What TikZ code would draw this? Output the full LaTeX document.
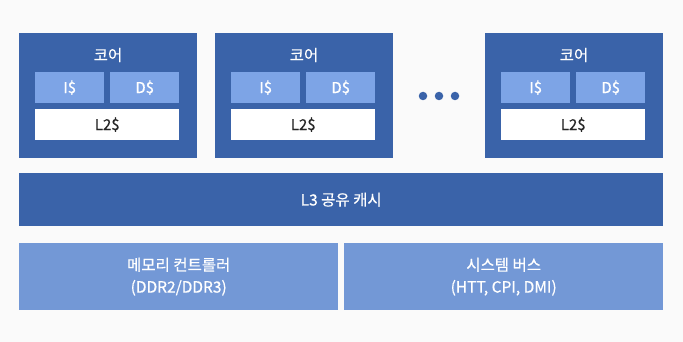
\documentclass[tikz,border=0pt]{standalone}
\usepackage{fontspec}
\setmainfont{Noto Sans CJK KR}[FakeBold=0.5]
\definecolor{bg}{HTML}{FAFAFA}
\definecolor{dark}{HTML}{3A63A9}
\definecolor{light}{HTML}{7DA4E6}
\definecolor{mid}{HTML}{7398D6}
\tikzset{
  box/.style={draw=none,inner sep=0pt,anchor=north west},
  corebox/.style={box,fill=dark,minimum width=178pt,minimum height=125pt},
  l1box/.style={box,fill=light,minimum width=69pt,minimum height=31pt,text=white,font=\fontsize{15}{17}\selectfont},
  l2box/.style={box,fill=white,minimum width=144pt,minimum height=31pt,text=black!85,font=\fontsize{15}{17}\selectfont},
  title/.style={text=white,font=\fontsize{15.5}{17}\selectfont,inner sep=0pt},
  dotc/.style={circle,fill=dark,minimum size=8.5pt,inner sep=0pt},
  botbox/.style={box,fill=mid,minimum width=319pt,minimum height=67pt,text=white,font=\fontsize{15.5}{22}\selectfont,align=center},
}
\begin{document}
\begin{tikzpicture}[x=1pt,y=-1pt]
\path[fill=bg] (0,0) rectangle (683,342);
\useasboundingbox (0,0) rectangle (683,342);
\foreach \n/\x in {a/19,b/215,c/485}{
  \node[corebox] (core\n) at (\x,33) {};
  \node[title] (t\n) at (\x+89,55) {코어};
  \node[l1box] (i\n) at (\x+16,72) {I\$};
  \node[l1box] (d\n) at (\x+91,72) {D\$};
  \node[l2box] (l\n) at (\x+16,109) {L2\$};
}
\node[dotc] (p1) at (423,96) {};
\node[dotc] (p2) at (439,96) {};
\node[dotc] (p3) at (455,96) {};
\node[box,fill=dark,minimum width=644pt,minimum height=53pt,text=white,font=\fontsize{15.5}{17}\selectfont] (l3) at (19,173) {L3 공유 캐시};
\node[botbox] (mem) at (19,243) {메모리 컨트롤러\\(DDR2/DDR3)};
\node[botbox] (bus) at (344,243) {시스템 버스\\(HTT, CPI, DMI)};
\end{tikzpicture}
\end{document}
